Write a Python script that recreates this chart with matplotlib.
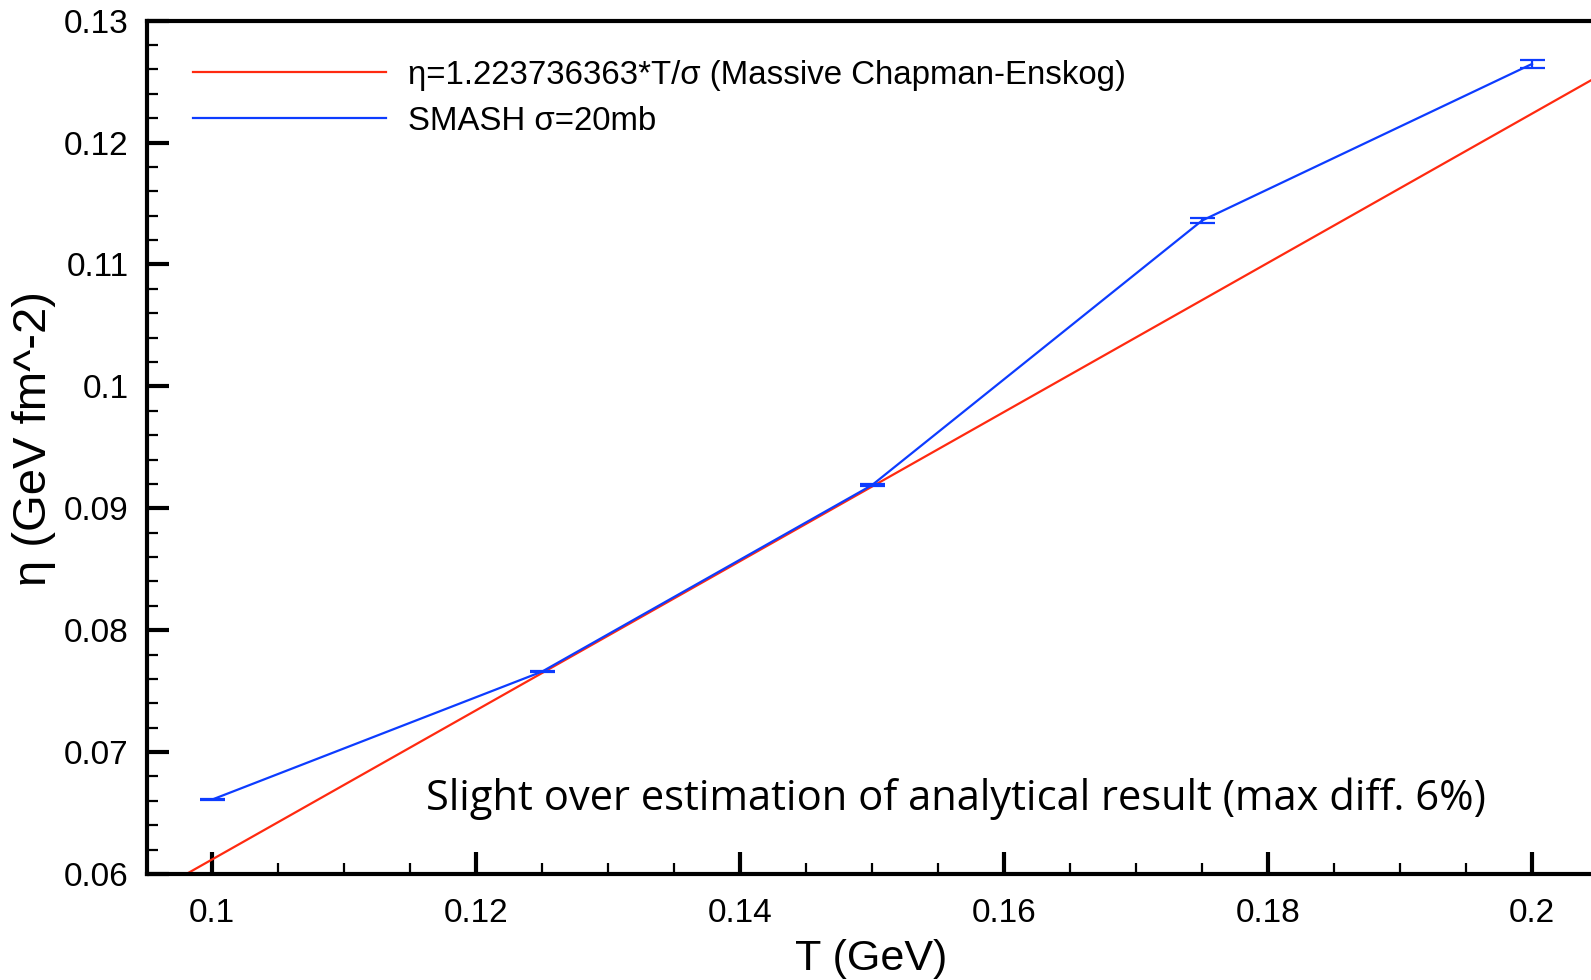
import matplotlib
matplotlib.use("Agg")
import matplotlib.pyplot as plt
from matplotlib.ticker import MultipleLocator
from matplotlib.lines import Line2D

plt.rcParams['font.family'] = ['Liberation Sans', 'DejaVu Sans']

# SMASH data, sigma = 20 mb
T_smash = [0.1, 0.125, 0.15, 0.175, 0.2]
eta_smash = [0.0661, 0.0766, 0.0919, 0.1136, 0.12645]
eta_err = [0.00005, 0.00005, 0.0001, 0.0002, 0.0003]

# analytic curve: eta = 1.223736363*T/sigma, sigma = 20 mb = 2 fm^2
coef = 1.223736363
sigma = 2.0
T_line = [0.09, 0.21]

xticks = [0.1, 0.12, 0.14, 0.16, 0.18, 0.2]
xlabels = ['0.1', '0.12', '0.14', '0.16', '0.18', '0.2']
yticks = [0.06, 0.07, 0.08, 0.09, 0.1, 0.11, 0.12, 0.13]
ylabels = ['0.06', '0.07', '0.08', '0.09', '0.1', '0.11', '0.12', '0.13']

red = '#ff2a10'
blue = '#0d3cff'

fig = plt.figure(figsize=(15.91, 9.80), dpi=100)
ax = fig.add_axes([0.0922, 0.1082, 1 - 0.0922, 0.8707])

eta_line = [coef * t / sigma for t in T_line]
ax.plot(T_line, eta_line, color=red, lw=1.6)
ax.errorbar(T_smash, eta_smash, yerr=eta_err, color=blue, lw=1.6,
            capsize=9, capthick=1.6, elinewidth=1.6)

ax.set_xlim(0.09505, 0.20447)
ax.set_ylim(0.06, 0.13)

ax.set_xticks(xticks)
ax.set_xticklabels(xlabels)
ax.set_yticks(yticks)
ax.set_yticklabels(ylabels)
ax.xaxis.set_minor_locator(MultipleLocator(0.005))
ax.yaxis.set_minor_locator(MultipleLocator(0.002))

ax.tick_params(which='major', direction='in', length=16, width=3,
               labelsize=24, top=False, right=False)
ax.tick_params(which='minor', direction='in', length=8, width=1.6,
               top=False, right=False)
ax.tick_params(axis='x', pad=17)
ax.tick_params(axis='y', pad=13)

for s in ['left', 'bottom', 'top']:
    ax.spines[s].set_linewidth(3)
ax.spines['right'].set_visible(False)

ax.set_xlabel('T (GeV)', fontsize=31)
ax.xaxis.set_label_coords(0.5016, -0.076)
ax.set_ylabel('η (GeV fm^-2)', fontsize=34)
ax.yaxis.set_label_coords(-0.0628, 0.510)

handles = [Line2D([], [], color=red, lw=1.6), Line2D([], [], color=blue, lw=1.6)]
labels = ['η=1.223736363*T/σ (Massive Chapman-Enskog)', 'SMASH σ=20mb']
ax.legend(handles, labels, loc='upper left', bbox_to_anchor=(0.032, 0.954),
          frameon=False, fontsize=23.8, handlelength=5.85, handletextpad=0.67,
          labelspacing=0.45, borderpad=0, borderaxespad=0)

ax.text(0.1162, 0.06525, 'Slight over estimation of analytical result (max diff. 6%)',
        ha='left', va='baseline', fontsize=30, family=['Open Sans', 'DejaVu Sans'])

fig.savefig('out.png', dpi=100)
